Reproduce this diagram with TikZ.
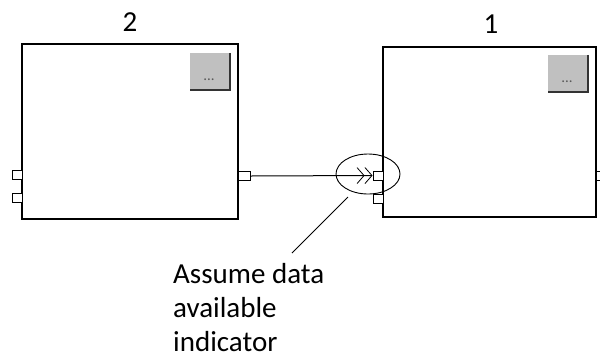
\documentclass[tikz,border=0pt]{standalone}
\usepackage{fontspec}
\setmainfont{Carlito}
\usetikzlibrary{arrows.meta, shapes.geometric}
\definecolor{btngray}{RGB}{192,192,192}
\tikzset{
  block/.style={draw, line width=1.5pt, fill=white, inner sep=0pt},
  port/.style={draw, line width=1pt, fill=white, minimum width=10pt, minimum height=9pt, inner sep=0pt},
  btn/.style={fill=btngray, minimum width=40pt, minimum height=37pt, inner sep=0pt},
  dots/.style={font=\fontsize{15}{15}\selectfont, text=black!65, anchor=base},
  lbl/.style={font=\fontsize{29}{34}\selectfont, inner sep=0pt}
}

\begin{document}
\begin{tikzpicture}[x=1pt, y=-1pt, line join=miter]
    \useasboundingbox (0,0) rectangle (600,360);

    % block 2
    \node[block, minimum width=216pt, minimum height=175pt] (box2) at (130,131.5) {};
    \node[lbl, anchor=base] (num2) at (130,31) {2};
    \node[btn] (btn2) at (210,71.5) {};
    \draw[line width=2.2pt, black!80] (btn2.north east) -- (btn2.south east) -- (btn2.south west);
    \node[dots] (dots2) at (209,80) {...};
    \node[port] (p2a) at (17,174.5) {};
    \node[port] (p2b) at (17,198) {};
    \node[port, minimum width=12pt] (p2out) at (244,176) {};

    % block 1
    \node[block, minimum width=213pt, minimum height=170pt] (box1) at (489.5,132) {};
    \node[lbl, anchor=base] (num1) at (491,33) {1};
    \node[btn] (btn1) at (568,73.5) {};
    \draw[line width=2.2pt, black!80] (btn1.north east) -- (btn1.south east) -- (btn1.south west);
    \node[dots] (dots1) at (567,82) {...};
    \node[port] (p1in) at (378,175.5) {};
    \node[port] (p1b) at (378,199) {};
    \node[port, minimum width=12pt] (p1out) at (602,176) {};

    % connection with indicator
    \draw[line width=1pt, -{Straight Barb[length=7pt, width=16pt, line width=0.8pt] Straight Barb[length=7pt, width=16pt, line width=0.8pt]}] (p2out.east) -- (p1in.west);
    \node[draw, ellipse, line width=0.9pt, minimum width=64pt, minimum height=40pt] (ind) at (368,174) {};

    % note
    \coordinate (leadA) at (348,197);
    \coordinate (leadB) at (292,253);
    \draw[line width=0.9pt] (leadA) -- (leadB);
    \node[lbl, align=left, anchor=north west] (note) at (173,263) {Assume data\\available\\indicator};
\end{tikzpicture}
\end{document}
